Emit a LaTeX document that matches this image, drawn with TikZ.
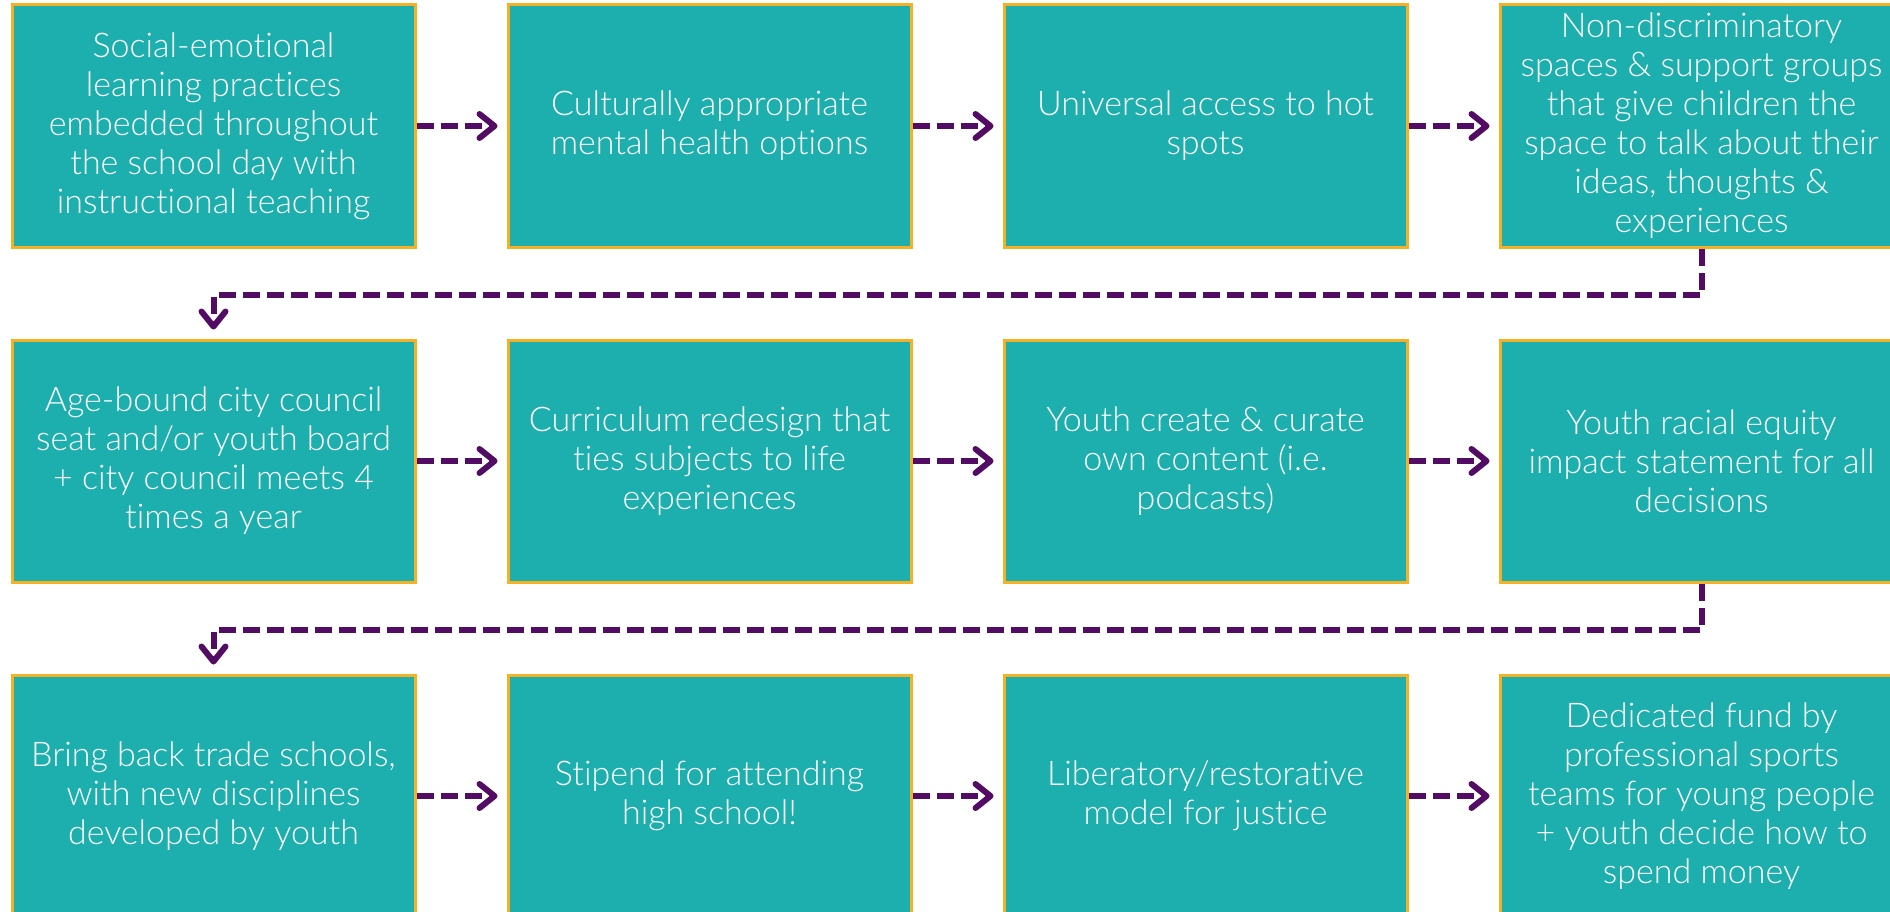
\documentclass[tikz,border=0pt]{standalone}
\usepackage{fontspec}
\setmainfont{Lato}[UprightFont=* Light, Ligatures=NoCommon]
\usetikzlibrary{arrows.meta}
\definecolor{teal1}{HTML}{1DAFAE}
\definecolor{gold1}{HTML}{F5B123}
\definecolor{purp1}{HTML}{520C63}
\tikzset{
  card/.style={rectangle, draw=gold1, line width=3pt, fill=teal1, text=white,
    minimum width=403pt, minimum height=242pt, inner sep=0pt, align=center,
    font=\fontsize{34}{39}\selectfont},
  arr/.style={draw=purp1, line width=6pt, dash pattern=on 17pt off 7pt,
    -{Straight Barb[length=15pt, width=24pt, line cap=round, line join=round]}},
}
\begin{document}
\begin{tikzpicture}[x=1pt,y=-1pt]
\useasboundingbox (0,0) rectangle (1890,912);
\clip (0,0) rectangle (1890,912);
\node[card] (b1) at (213.5,126) {Social-emotional\\learning practices\\embedded throughout\\the school day with\\instructional teaching};
\node[card] (b2) at (709.5,126) {Culturally appropriate\\mental health options};
\node[card] (b3) at (1205.5,126) {Universal access to hot\\spots};
\node[card] (b4) at (1701.5,126) {Non-discriminatory\\spaces \& support groups\\that give children the\\space to talk about their\\ideas, thoughts \&\\experiences};
\node[card] (b5) at (213.5,461) {Age-bound city council\\seat and/or youth board\\+ city council meets 4\\times a year};
\node[card] (b6) at (709.5,461) {Curriculum redesign that\\ties subjects to life\\experiences};
\node[card] (b7) at (1205.5,461) {Youth create \& curate\\own content (i.e.\\podcasts)};
\node[card] (b8) at (1701.5,461) {Youth racial equity\\impact statement for all\\decisions};
\node[card] (b9) at (213.5,796) {Bring back trade schools,\\with new disciplines\\developed by youth};
\node[card] (b10) at (709.5,796) {Stipend for attending\\high school!};
\node[card] (b11) at (1205.5,796) {Liberatory/restorative\\model for justice};
\node[card] (b12) at (1701.5,796) {Dedicated fund by\\professional sports\\teams for young people\\+ youth decide how to\\spend money};
\foreach \a/\b in {b1/b2,b2/b3,b3/b4,b5/b6,b6/b7,b7/b8,b9/b10,b10/b11,b11/b12}
  \draw[arr] (\a.east) -- ([xshift=-9pt]\b.west);
\draw[arr] (b4.south) -- ++(0,46) -| ([yshift=9pt]b5.north);
\draw[arr] (b8.south) -- ++(0,46) -| ([yshift=9pt]b9.north);
\end{tikzpicture}
\end{document}
